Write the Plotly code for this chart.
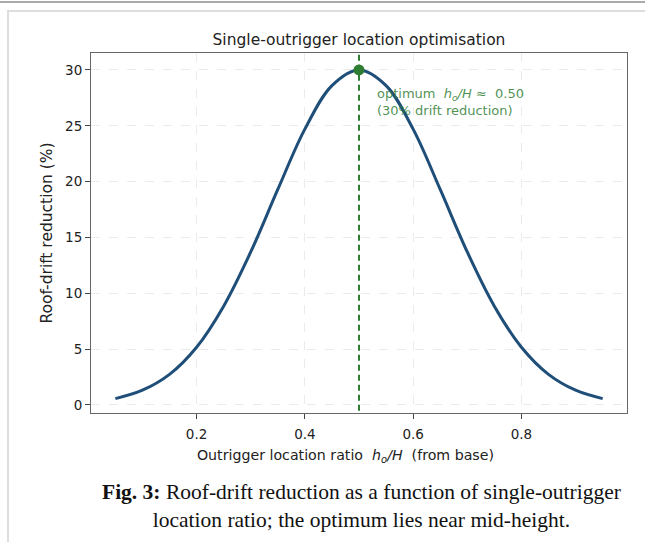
import plotly.graph_objects as go

# outrigger location ratio h_o/H and roof-drift reduction (%)
ratio = [0.05, 0.10, 0.15, 0.20, 0.25, 0.30, 0.35, 0.40, 0.45, 0.50,
         0.55, 0.60, 0.65, 0.70, 0.75, 0.80, 0.85, 0.90, 0.95]
reduction = [0.57, 1.32, 2.74, 5.17, 8.85, 13.7, 19.3, 24.7, 28.6, 30.0,
             28.6, 24.7, 19.3, 13.7, 8.85, 5.17, 2.74, 1.32, 0.57]
opt_ratio = 0.50
opt_value = 30.0
x_ticks = [0.2, 0.4, 0.6, 0.8]
y_ticks = [0, 5, 10, 15, 20, 25, 30]

W, H = 645, 542
L, R, T, B = 91, 18, 53, 129

fig = go.Figure()
fig.add_trace(go.Scatter(x=ratio, y=reduction, mode="lines",
                         line=dict(color="#1f4e79", width=3, shape="spline", smoothing=1.0),
                         showlegend=False, hoverinfo="skip"))
fig.add_trace(go.Scatter(x=[opt_ratio, opt_ratio], y=[-5, 40], mode="lines",
                         line=dict(color="#2e7d32", width=2, dash="6px,4px"),
                         showlegend=False, hoverinfo="skip"))
fig.add_trace(go.Scatter(x=[opt_ratio], y=[opt_value], mode="markers",
                         marker=dict(color="#2e7d32", size=11),
                         showlegend=False, hoverinfo="skip"))

green_txt = "rgba(46,125,50,0.85)"
fig.add_annotation(x=opt_ratio + 0.03, y=opt_value - 1.3, xref="x", yref="y",
                   xanchor="left", yanchor="top", align="left", showarrow=False,
                   text="optimum  <i>h<sub>o</sub>/H</i> ≈  0.50<br>(30% drift reduction)",
                   font=dict(family="DejaVu Sans", size=13, color=green_txt))

def to_px(xp, yp):
    return (xp - L) / (W - L - R), 1 - (yp - T) / (H - T - B)

# page decoration: top rule and figure box
x0, y0 = to_px(0, 2)
x1, _ = to_px(W, 2)
fig.add_shape(type="line", xref="paper", yref="paper", x0=x0, x1=x1, y0=y0, y1=y0,
              line=dict(color="#aaaaaa", width=2), layer="above")
bx, by = to_px(8, 11)
bx2, by2 = to_px(W + 5, H + 5)
fig.add_shape(type="rect", xref="paper", yref="paper", x0=bx, x1=bx2, y0=by, y1=by2,
              line=dict(color="#dddddd", width=2), fillcolor="rgba(0,0,0,0)", layer="below")

fig.add_annotation(x=(361 - L) / (W - L - R), y=to_px(0, 506)[1], xref="paper", yref="paper",
                   showarrow=False, xanchor="center", yanchor="middle", align="center",
                   text="<b>Fig. 3:</b> Roof-drift reduction as a function of single-outrigger<br>"
                        "location ratio; the optimum lies near mid-height.",
                   font=dict(family="Liberation Serif", size=21.5, color="#111111"))

fig.update_layout(
    width=W, height=H,
    margin=dict(l=L, r=R, t=T, b=B),
    paper_bgcolor="white", plot_bgcolor="white",
    font=dict(family="DejaVu Sans", size=13.5, color="#222222"),
    title=dict(text="Single-outrigger location optimisation", x=(L + (W - L - R) / 2) / W,
               xanchor="center", y=1 - 40 / H, yanchor="middle",
               font=dict(size=15.5, color="#222222")),
)
fig.update_xaxes(range=[0.005, 0.995], tickvals=x_ticks, ticktext=["0.2", "0.4", "0.6", "0.8"],
                 showline=True, mirror=True, linecolor="#666666", linewidth=1,
                 ticks="outside", ticklen=5, tickcolor="#444444", ticklabelstandoff=4,
                 showgrid=True, gridcolor="#ebebeb", griddash="dash", gridwidth=1,
                 zeroline=False,
                 title=dict(text="Outrigger location ratio  <i>h<sub>o</sub>/H</i>  (from base)"
                                 + "&nbsp;" * 6,
                            font=dict(size=14.2), standoff=8))
fig.update_yaxes(range=[-0.72, 31.52], tickvals=y_ticks,
                 showline=True, mirror=True, linecolor="#666666", linewidth=1,
                 ticks="outside", ticklen=5, tickcolor="#444444",
                 showgrid=True, gridcolor="#ebebeb", griddash="dash", gridwidth=1,
                 zeroline=False,
                 title=dict(text="Roof-drift reduction (%)", font=dict(size=15.5), standoff=8))

fig.write_html("out.html", config={"displayModeBar": False},
               post_script="document.body.style.margin='0';")
